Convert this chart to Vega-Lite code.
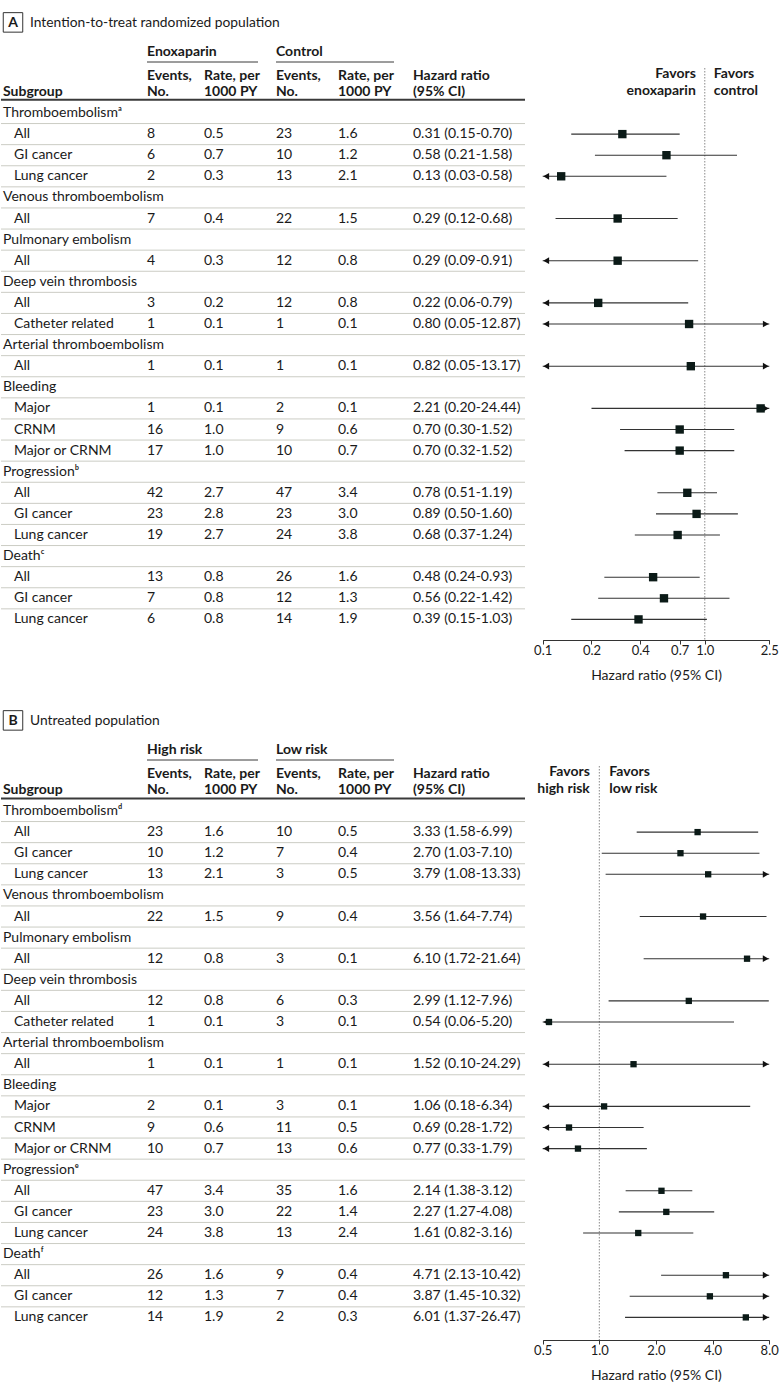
{
  "$schema": "https://vega.github.io/schema/vega-lite/v6.json",
  "padding": 0,
  "background": "white",
  "spacing": 58,
  "bounds": "flush",
  "config": {
    "view": {"stroke": null},
    "font": "Lato",
    "text": {"font": "Lato", "fontSize": 14, "color": "#1a1a1a", "align": "left", "baseline": "middle"},
    "point": {"opacity": 1},
    "axis": {"grid": false, "domainColor": "#333333", "tickColor": "#333333", "tickSize": 4, "labelFont": "Lato", "labelFontSize": 13, "labelColor": "#1a1a1a", "labelPadding": 0.5, "labelOverlap": false, "labelFlush": false, "titleFont": "Lato", "titleFontSize": 14, "titleFontWeight": "normal", "titleColor": "#1a1a1a", "titlePadding": 10.5}
  },
  "datasets": {
    "A": [
      {"id": "03", "label": "Thromboembolismᵃ", "level": "cat"},
      {"id": "04", "label": "All", "level": "sub", "ev1": 8, "rate1": 0.5, "ev2": 23, "rate2": 1.6, "hr": "0.31 (0.15-0.70)", "est": 0.31, "lo": 0.15, "hi": 0.70},
      {"id": "05", "label": "GI cancer", "level": "sub", "ev1": 6, "rate1": 0.7, "ev2": 10, "rate2": 1.2, "hr": "0.58 (0.21-1.58)", "est": 0.58, "lo": 0.21, "hi": 1.58},
      {"id": "06", "label": "Lung cancer", "level": "sub", "ev1": 2, "rate1": 0.3, "ev2": 13, "rate2": 2.1, "hr": "0.13 (0.03-0.58)", "est": 0.13, "lo": 0.03, "hi": 0.58},
      {"id": "07", "label": "Venous thromboembolism", "level": "cat"},
      {"id": "08", "label": "All", "level": "sub", "ev1": 7, "rate1": 0.4, "ev2": 22, "rate2": 1.5, "hr": "0.29 (0.12-0.68)", "est": 0.29, "lo": 0.12, "hi": 0.68},
      {"id": "09", "label": "Pulmonary embolism", "level": "cat"},
      {"id": "10", "label": "All", "level": "sub", "ev1": 4, "rate1": 0.3, "ev2": 12, "rate2": 0.8, "hr": "0.29 (0.09-0.91)", "est": 0.29, "lo": 0.09, "hi": 0.91},
      {"id": "11", "label": "Deep vein thrombosis", "level": "cat"},
      {"id": "12", "label": "All", "level": "sub", "ev1": 3, "rate1": 0.2, "ev2": 12, "rate2": 0.8, "hr": "0.22 (0.06-0.79)", "est": 0.22, "lo": 0.06, "hi": 0.79},
      {"id": "13", "label": "Catheter related", "level": "sub", "ev1": 1, "rate1": 0.1, "ev2": 1, "rate2": 0.1, "hr": "0.80 (0.05-12.87)", "est": 0.80, "lo": 0.05, "hi": 12.87},
      {"id": "14", "label": "Arterial thromboembolism", "level": "cat"},
      {"id": "15", "label": "All", "level": "sub", "ev1": 1, "rate1": 0.1, "ev2": 1, "rate2": 0.1, "hr": "0.82 (0.05-13.17)", "est": 0.82, "lo": 0.05, "hi": 13.17},
      {"id": "16", "label": "Bleeding", "level": "cat"},
      {"id": "17", "label": "Major", "level": "sub", "ev1": 1, "rate1": 0.1, "ev2": 2, "rate2": 0.1, "hr": "2.21 (0.20-24.44)", "est": 2.21, "lo": 0.20, "hi": 24.44},
      {"id": "18", "label": "CRNM", "level": "sub", "ev1": 16, "rate1": 1.0, "ev2": 9, "rate2": 0.6, "hr": "0.70 (0.30-1.52)", "est": 0.70, "lo": 0.30, "hi": 1.52},
      {"id": "19", "label": "Major or CRNM", "level": "sub", "ev1": 17, "rate1": 1.0, "ev2": 10, "rate2": 0.7, "hr": "0.70 (0.32-1.52)", "est": 0.70, "lo": 0.32, "hi": 1.52},
      {"id": "20", "label": "Progressionᵇ", "level": "cat"},
      {"id": "21", "label": "All", "level": "sub", "ev1": 42, "rate1": 2.7, "ev2": 47, "rate2": 3.4, "hr": "0.78 (0.51-1.19)", "est": 0.78, "lo": 0.51, "hi": 1.19},
      {"id": "22", "label": "GI cancer", "level": "sub", "ev1": 23, "rate1": 2.8, "ev2": 23, "rate2": 3.0, "hr": "0.89 (0.50-1.60)", "est": 0.89, "lo": 0.50, "hi": 1.60},
      {"id": "23", "label": "Lung cancer", "level": "sub", "ev1": 19, "rate1": 2.7, "ev2": 24, "rate2": 3.8, "hr": "0.68 (0.37-1.24)", "est": 0.68, "lo": 0.37, "hi": 1.24},
      {"id": "24", "label": "Deathᶜ", "level": "cat"},
      {"id": "25", "label": "All", "level": "sub", "ev1": 13, "rate1": 0.8, "ev2": 26, "rate2": 1.6, "hr": "0.48 (0.24-0.93)", "est": 0.48, "lo": 0.24, "hi": 0.93},
      {"id": "26", "label": "GI cancer", "level": "sub", "ev1": 7, "rate1": 0.8, "ev2": 12, "rate2": 1.3, "hr": "0.56 (0.22-1.42)", "est": 0.56, "lo": 0.22, "hi": 1.42},
      {"id": "27", "label": "Lung cancer", "level": "sub", "ev1": 6, "rate1": 0.8, "ev2": 14, "rate2": 1.9, "hr": "0.39 (0.15-1.03)", "est": 0.39, "lo": 0.15, "hi": 1.03}
    ],
    "B": [
      {"id": "03", "label": "Thromboembolismᵈ", "level": "cat"},
      {"id": "04", "label": "All", "level": "sub", "ev1": 23, "rate1": 1.6, "ev2": 10, "rate2": 0.5, "hr": "3.33 (1.58-6.99)", "est": 3.33, "lo": 1.58, "hi": 6.99},
      {"id": "05", "label": "GI cancer", "level": "sub", "ev1": 10, "rate1": 1.2, "ev2": 7, "rate2": 0.4, "hr": "2.70 (1.03-7.10)", "est": 2.70, "lo": 1.03, "hi": 7.10},
      {"id": "06", "label": "Lung cancer", "level": "sub", "ev1": 13, "rate1": 2.1, "ev2": 3, "rate2": 0.5, "hr": "3.79 (1.08-13.33)", "est": 3.79, "lo": 1.08, "hi": 13.33},
      {"id": "07", "label": "Venous thromboembolism", "level": "cat"},
      {"id": "08", "label": "All", "level": "sub", "ev1": 22, "rate1": 1.5, "ev2": 9, "rate2": 0.4, "hr": "3.56 (1.64-7.74)", "est": 3.56, "lo": 1.64, "hi": 7.74},
      {"id": "09", "label": "Pulmonary embolism", "level": "cat"},
      {"id": "10", "label": "All", "level": "sub", "ev1": 12, "rate1": 0.8, "ev2": 3, "rate2": 0.1, "hr": "6.10 (1.72-21.64)", "est": 6.10, "lo": 1.72, "hi": 21.64},
      {"id": "11", "label": "Deep vein thrombosis", "level": "cat"},
      {"id": "12", "label": "All", "level": "sub", "ev1": 12, "rate1": 0.8, "ev2": 6, "rate2": 0.3, "hr": "2.99 (1.12-7.96)", "est": 2.99, "lo": 1.12, "hi": 7.96},
      {"id": "13", "label": "Catheter related", "level": "sub", "ev1": 1, "rate1": 0.1, "ev2": 3, "rate2": 0.1, "hr": "0.54 (0.06-5.20)", "est": 0.54, "lo": 0.06, "hi": 5.20},
      {"id": "14", "label": "Arterial thromboembolism", "level": "cat"},
      {"id": "15", "label": "All", "level": "sub", "ev1": 1, "rate1": 0.1, "ev2": 1, "rate2": 0.1, "hr": "1.52 (0.10-24.29)", "est": 1.52, "lo": 0.10, "hi": 24.29},
      {"id": "16", "label": "Bleeding", "level": "cat"},
      {"id": "17", "label": "Major", "level": "sub", "ev1": 2, "rate1": 0.1, "ev2": 3, "rate2": 0.1, "hr": "1.06 (0.18-6.34)", "est": 1.06, "lo": 0.18, "hi": 6.34},
      {"id": "18", "label": "CRNM", "level": "sub", "ev1": 9, "rate1": 0.6, "ev2": 11, "rate2": 0.5, "hr": "0.69 (0.28-1.72)", "est": 0.69, "lo": 0.28, "hi": 1.72},
      {"id": "19", "label": "Major or CRNM", "level": "sub", "ev1": 10, "rate1": 0.7, "ev2": 13, "rate2": 0.6, "hr": "0.77 (0.33-1.79)", "est": 0.77, "lo": 0.33, "hi": 1.79},
      {"id": "20", "label": "Progressionᵉ", "level": "cat"},
      {"id": "21", "label": "All", "level": "sub", "ev1": 47, "rate1": 3.4, "ev2": 35, "rate2": 1.6, "hr": "2.14 (1.38-3.12)", "est": 2.14, "lo": 1.38, "hi": 3.12},
      {"id": "22", "label": "GI cancer", "level": "sub", "ev1": 23, "rate1": 3.0, "ev2": 22, "rate2": 1.4, "hr": "2.27 (1.27-4.08)", "est": 2.27, "lo": 1.27, "hi": 4.08},
      {"id": "23", "label": "Lung cancer", "level": "sub", "ev1": 24, "rate1": 3.8, "ev2": 13, "rate2": 2.4, "hr": "1.61 (0.82-3.16)", "est": 1.61, "lo": 0.82, "hi": 3.16},
      {"id": "24", "label": "Deathᶠ", "level": "cat"},
      {"id": "25", "label": "All", "level": "sub", "ev1": 26, "rate1": 1.6, "ev2": 9, "rate2": 0.4, "hr": "4.71 (2.13-10.42)", "est": 4.71, "lo": 2.13, "hi": 10.42},
      {"id": "26", "label": "GI cancer", "level": "sub", "ev1": 12, "rate1": 1.3, "ev2": 7, "rate2": 0.4, "hr": "3.87 (1.45-10.32)", "est": 3.87, "lo": 1.45, "hi": 10.32},
      {"id": "27", "label": "Lung cancer", "level": "sub", "ev1": 14, "rate1": 1.9, "ev2": 2, "rate2": 0.3, "hr": "6.01 (1.37-26.47)", "est": 6.01, "lo": 1.37, "hi": 26.47}
    ]
  },
  "vconcat": [
    {
      "width": 780, "height": 640,
      "data": {"name": "A"},
      "resolve": {"scale": {"x": "independent"}},
      "layer": [
        {
          "layer": [
            {
              "transform": [{"filter": "datum.id != '03'"}],
              "mark": {"type": "rule", "color": "#cbccc4", "strokeWidth": 1, "yOffset": -10.55, "xOffset": 1},
              "encoding": {
                "x": {"datum": "label", "type": "nominal", "axis": null, "scale": {"type": "point", "domain": ["label", "ev1", "rate1", "ev2", "rate2", "hr", "end"], "range": [0, 525], "padding": 0}},
                "x2": {"datum": "end"},
                "y": {"field": "id", "type": "ordinal", "axis": null, "scale": {"type": "point", "domain": ["00","01","02","03","04","05","06","07","08","09","10","11","12","13","14","15","16","17","18","19","20","21","22","23","24","25","26","27"], "range": [49.7, 619.4], "padding": 0}}
              }
            },
            {
              "data": {"values": [{}]},
              "mark": {"type": "rule", "color": "#3a3a3a", "strokeWidth": 2, "yOffset": 7.8, "xOffset": 1},
              "encoding": {"x": {"datum": "label", "type": "nominal", "axis": null}, "x2": {"datum": "end"}, "y": {"datum": "02", "type": "ordinal", "axis": null}}
            },
            {
              "data": {"values": [{}]},
              "mark": {"type": "rule", "color": "#3a3a3a", "strokeWidth": 1, "yOffset": 12.3, "xOffset": 59.5, "x2Offset": -4.5},
              "encoding": {"x": {"datum": "ev1", "type": "nominal", "axis": null}, "x2": {"datum": "ev2"}, "y": {"datum": "00", "type": "ordinal", "axis": null}}
            },
            {
              "data": {"values": [{}]},
              "mark": {"type": "rule", "color": "#3a3a3a", "strokeWidth": 1, "yOffset": 12.3, "xOffset": 13.5, "x2Offset": -43.5},
              "encoding": {"x": {"datum": "ev2", "type": "nominal", "axis": null}, "x2": {"datum": "hr"}, "y": {"datum": "00", "type": "ordinal", "axis": null}}
            },
            {
              "data": {"values": [{}]},
              "mark": {"type": "text", "text": "Enoxaparin", "fontWeight": "bold", "dx": 59.5, "dy": 2},
              "encoding": {"x": {"datum": "ev1", "type": "nominal", "axis": null}, "y": {"datum": "00", "type": "ordinal", "axis": null}}
            },
            {
              "data": {"values": [{}]},
              "mark": {"type": "text", "text": "Control", "fontWeight": "bold", "dx": 13.5, "dy": 2},
              "encoding": {"x": {"datum": "ev2", "type": "nominal", "axis": null}, "y": {"datum": "00", "type": "ordinal", "axis": null}}
            },
            {
              "data": {"values": [{}]},
              "mark": {"type": "text", "text": "Subgroup", "fontWeight": "bold", "dx": 3},
              "encoding": {"x": {"datum": "label", "type": "nominal", "axis": null}, "y": {"datum": "02", "type": "ordinal", "axis": null}}
            },
            {
              "data": {"values": [{}]},
              "mark": {"type": "text", "text": ["Events,", "No."], "fontWeight": "bold", "lineHeight": 16.2, "dx": 59.5, "dy": -16.3},
              "encoding": {"x": {"datum": "ev1", "type": "nominal", "axis": null}, "y": {"datum": "02", "type": "ordinal", "axis": null}}
            },
            {
              "data": {"values": [{}]},
              "mark": {"type": "text", "text": ["Rate, per", "1000 PY"], "fontWeight": "bold", "lineHeight": 16.2, "dx": 29, "dy": -16.3},
              "encoding": {"x": {"datum": "rate1", "type": "nominal", "axis": null}, "y": {"datum": "02", "type": "ordinal", "axis": null}}
            },
            {
              "data": {"values": [{}]},
              "mark": {"type": "text", "text": ["Events,", "No."], "fontWeight": "bold", "lineHeight": 16.2, "dx": 13.5, "dy": -16.3},
              "encoding": {"x": {"datum": "ev2", "type": "nominal", "axis": null}, "y": {"datum": "02", "type": "ordinal", "axis": null}}
            },
            {
              "data": {"values": [{}]},
              "mark": {"type": "text", "text": ["Rate, per", "1000 PY"], "fontWeight": "bold", "lineHeight": 16.2, "dx": -12, "dy": -16.3},
              "encoding": {"x": {"datum": "rate2", "type": "nominal", "axis": null}, "y": {"datum": "02", "type": "ordinal", "axis": null}}
            },
            {
              "data": {"values": [{}]},
              "mark": {"type": "text", "text": ["Hazard ratio", "(95% CI)"], "fontWeight": "bold", "lineHeight": 16.2, "dx": -24.5, "dy": -16.3},
              "encoding": {"x": {"datum": "hr", "type": "nominal", "axis": null}, "y": {"datum": "02", "type": "ordinal", "axis": null}}
            },
            {
              "data": {"values": [{}]},
              "mark": {"type": "point", "shape": "square", "filled": false, "stroke": "#333333", "strokeWidth": 1, "size": 380, "xOffset": 13, "yOffset": -27.3},
              "encoding": {"x": {"datum": "label", "type": "nominal", "axis": null}, "y": {"datum": "00", "type": "ordinal", "axis": null}}
            },
            {
              "data": {"values": [{}]},
              "mark": {"type": "text", "text": "A", "fontWeight": "bold", "align": "center", "dx": 13, "dy": -27},
              "encoding": {"x": {"datum": "label", "type": "nominal", "axis": null}, "y": {"datum": "00", "type": "ordinal", "axis": null}}
            },
            {
              "data": {"values": [{}]},
              "mark": {"type": "text", "text": "Intention-to-treat randomized population", "fontSize": 13.8, "dx": 30, "dy": -27},
              "encoding": {"x": {"datum": "label", "type": "nominal", "axis": null}, "y": {"datum": "00", "type": "ordinal", "axis": null}}
            },
            {
              "transform": [{"filter": "datum.level == 'cat'"}],
              "mark": {"type": "text", "dx": 3},
              "encoding": {"x": {"datum": "label", "type": "nominal", "axis": null}, "y": {"field": "id", "type": "ordinal", "axis": null}, "text": {"field": "label"}}
            },
            {
              "transform": [{"filter": "datum.level == 'sub'"}],
              "mark": {"type": "text", "dx": 14},
              "encoding": {"x": {"datum": "label", "type": "nominal", "axis": null}, "y": {"field": "id", "type": "ordinal", "axis": null}, "text": {"field": "label"}}
            },
            {
              "transform": [{"filter": "datum.level == 'sub'"}],
              "mark": {"type": "text", "dx": 59.5},
              "encoding": {"x": {"datum": "ev1", "type": "nominal", "axis": null}, "y": {"field": "id", "type": "ordinal", "axis": null}, "text": {"field": "ev1", "type": "quantitative", "format": "d"}}
            },
            {
              "transform": [{"filter": "datum.level == 'sub'"}],
              "mark": {"type": "text", "dx": 29},
              "encoding": {"x": {"datum": "rate1", "type": "nominal", "axis": null}, "y": {"field": "id", "type": "ordinal", "axis": null}, "text": {"field": "rate1", "type": "quantitative", "format": ".1f"}}
            },
            {
              "transform": [{"filter": "datum.level == 'sub'"}],
              "mark": {"type": "text", "dx": 13.5},
              "encoding": {"x": {"datum": "ev2", "type": "nominal", "axis": null}, "y": {"field": "id", "type": "ordinal", "axis": null}, "text": {"field": "ev2", "type": "quantitative", "format": "d"}}
            },
            {
              "transform": [{"filter": "datum.level == 'sub'"}],
              "mark": {"type": "text", "dx": -12},
              "encoding": {"x": {"datum": "rate2", "type": "nominal", "axis": null}, "y": {"field": "id", "type": "ordinal", "axis": null}, "text": {"field": "rate2", "type": "quantitative", "format": ".1f"}}
            },
            {
              "transform": [{"filter": "datum.level == 'sub'"}],
              "mark": {"type": "text", "dx": -24.5},
              "encoding": {"x": {"datum": "hr", "type": "nominal", "axis": null}, "y": {"field": "id", "type": "ordinal", "axis": null}, "text": {"field": "hr"}}
            }
          ]
        },
        {
          "layer": [
            {
              "data": {"values": [{}]},
              "mark": {"type": "rule", "color": "#8a8a8a", "strokeWidth": 1, "strokeDash": [1.5, 1.5], "yOffset": -2.8, "y2Offset": 20.6},
              "encoding": {
                "x": {"datum": 1, "type": "quantitative", "title": "Hazard ratio (95% CI)", "scale": {"type": "log", "domain": [0.1, 2.5], "range": [542.7, 769.3], "clamp": true, "nice": false, "zero": false}, "axis": {"values": [0.1, 0.2, 0.4, 0.7, 1, 2.5], "format": ".1f", "title": "Hazard ratio (95% CI)"}},
                "y": {"datum": "01", "type": "ordinal", "axis": null},
                "y2": {"datum": "27"}
              }
            },
            {
              "data": {"values": [{}]},
              "mark": {"type": "text", "text": ["Favors", "enoxaparin"], "fontWeight": "bold", "align": "right", "lineHeight": 16.7, "dx": -9, "dy": -17.8},
              "encoding": {"x": {"datum": 1, "type": "quantitative", "title": "Hazard ratio (95% CI)"}, "y": {"datum": "02", "type": "ordinal", "axis": null}}
            },
            {
              "data": {"values": [{}]},
              "mark": {"type": "text", "text": ["Favors", "control"], "fontWeight": "bold", "align": "left", "lineHeight": 16.7, "dx": 9, "dy": -17.8},
              "encoding": {"x": {"datum": 1, "type": "quantitative", "title": "Hazard ratio (95% CI)"}, "y": {"datum": "02", "type": "ordinal", "axis": null}}
            },
            {
              "transform": [{"filter": "datum.level == 'sub'"}],
              "mark": {"type": "rule", "color": "#333333", "strokeWidth": 1.1},
              "encoding": {"x": {"field": "lo", "type": "quantitative", "title": "Hazard ratio (95% CI)"}, "x2": {"field": "hi"}, "y": {"field": "id", "type": "ordinal", "axis": null}}
            },
            {
              "transform": [{"filter": "datum.level == 'sub' && datum.lo < 0.1"}],
              "mark": {"type": "point", "shape": "triangle-left", "filled": true, "color": "#111111", "size": 45, "xOffset": 3.5},
              "encoding": {"x": {"field": "lo", "type": "quantitative", "title": "Hazard ratio (95% CI)"}, "y": {"field": "id", "type": "ordinal", "axis": null}}
            },
            {
              "transform": [{"filter": "datum.level == 'sub' && datum.hi > 2.5"}],
              "mark": {"type": "point", "shape": "triangle-right", "filled": true, "color": "#111111", "size": 45, "xOffset": -3.5},
              "encoding": {"x": {"field": "hi", "type": "quantitative", "title": "Hazard ratio (95% CI)"}, "y": {"field": "id", "type": "ordinal", "axis": null}}
            },
            {
              "transform": [{"filter": "datum.level == 'sub'"}],
              "mark": {"type": "point", "shape": "square", "filled": true, "color": "#0b1a17", "size": 70},
              "encoding": {"x": {"field": "est", "type": "quantitative", "title": "Hazard ratio (95% CI)"}, "y": {"field": "id", "type": "ordinal", "axis": null}}
            }
          ]
        }
      ]
    },
    {
      "width": 780, "height": 642,
      "data": {"name": "B"},
      "resolve": {"scale": {"x": "independent"}},
      "layer": [
        {
          "layer": [
            {
              "transform": [{"filter": "datum.id != '03'"}],
              "mark": {"type": "rule", "color": "#cbccc4", "strokeWidth": 1, "yOffset": -10.55, "xOffset": 1},
              "encoding": {
                "x": {"datum": "label", "type": "nominal", "axis": null, "scale": {"type": "point", "domain": ["label", "ev1", "rate1", "ev2", "rate2", "hr", "end"], "range": [0, 525], "padding": 0}},
                "x2": {"datum": "end"},
                "y": {"field": "id", "type": "ordinal", "axis": null, "scale": {"type": "point", "domain": ["00","01","02","03","04","05","06","07","08","09","10","11","12","13","14","15","16","17","18","19","20","21","22","23","24","25","26","27"], "range": [49.7, 619.4], "padding": 0}}
              }
            },
            {
              "data": {"values": [{}]},
              "mark": {"type": "rule", "color": "#3a3a3a", "strokeWidth": 2, "yOffset": 8.5, "xOffset": 1},
              "encoding": {"x": {"datum": "label", "type": "nominal", "axis": null}, "x2": {"datum": "end"}, "y": {"datum": "02", "type": "ordinal", "axis": null}}
            },
            {
              "data": {"values": [{}]},
              "mark": {"type": "rule", "color": "#3a3a3a", "strokeWidth": 1, "yOffset": 12.3, "xOffset": 59.5, "x2Offset": -4.5},
              "encoding": {"x": {"datum": "ev1", "type": "nominal", "axis": null}, "x2": {"datum": "ev2"}, "y": {"datum": "00", "type": "ordinal", "axis": null}}
            },
            {
              "data": {"values": [{}]},
              "mark": {"type": "rule", "color": "#3a3a3a", "strokeWidth": 1, "yOffset": 12.3, "xOffset": 13.5, "x2Offset": -43.5},
              "encoding": {"x": {"datum": "ev2", "type": "nominal", "axis": null}, "x2": {"datum": "hr"}, "y": {"datum": "00", "type": "ordinal", "axis": null}}
            },
            {
              "data": {"values": [{}]},
              "mark": {"type": "text", "text": "High risk", "fontWeight": "bold", "dx": 59.5, "dy": 2},
              "encoding": {"x": {"datum": "ev1", "type": "nominal", "axis": null}, "y": {"datum": "00", "type": "ordinal", "axis": null}}
            },
            {
              "data": {"values": [{}]},
              "mark": {"type": "text", "text": "Low risk", "fontWeight": "bold", "dx": 13.5, "dy": 2},
              "encoding": {"x": {"datum": "ev2", "type": "nominal", "axis": null}, "y": {"datum": "00", "type": "ordinal", "axis": null}}
            },
            {
              "data": {"values": [{}]},
              "mark": {"type": "text", "text": "Subgroup", "fontWeight": "bold", "dx": 3},
              "encoding": {"x": {"datum": "label", "type": "nominal", "axis": null}, "y": {"datum": "02", "type": "ordinal", "axis": null}}
            },
            {
              "data": {"values": [{}]},
              "mark": {"type": "text", "text": ["Events,", "No."], "fontWeight": "bold", "lineHeight": 16.2, "dx": 59.5, "dy": -16.3},
              "encoding": {"x": {"datum": "ev1", "type": "nominal", "axis": null}, "y": {"datum": "02", "type": "ordinal", "axis": null}}
            },
            {
              "data": {"values": [{}]},
              "mark": {"type": "text", "text": ["Rate, per", "1000 PY"], "fontWeight": "bold", "lineHeight": 16.2, "dx": 29, "dy": -16.3},
              "encoding": {"x": {"datum": "rate1", "type": "nominal", "axis": null}, "y": {"datum": "02", "type": "ordinal", "axis": null}}
            },
            {
              "data": {"values": [{}]},
              "mark": {"type": "text", "text": ["Events,", "No."], "fontWeight": "bold", "lineHeight": 16.2, "dx": 13.5, "dy": -16.3},
              "encoding": {"x": {"datum": "ev2", "type": "nominal", "axis": null}, "y": {"datum": "02", "type": "ordinal", "axis": null}}
            },
            {
              "data": {"values": [{}]},
              "mark": {"type": "text", "text": ["Rate, per", "1000 PY"], "fontWeight": "bold", "lineHeight": 16.2, "dx": -12, "dy": -16.3},
              "encoding": {"x": {"datum": "rate2", "type": "nominal", "axis": null}, "y": {"datum": "02", "type": "ordinal", "axis": null}}
            },
            {
              "data": {"values": [{}]},
              "mark": {"type": "text", "text": ["Hazard ratio", "(95% CI)"], "fontWeight": "bold", "lineHeight": 16.2, "dx": -24.5, "dy": -16.3},
              "encoding": {"x": {"datum": "hr", "type": "nominal", "axis": null}, "y": {"datum": "02", "type": "ordinal", "axis": null}}
            },
            {
              "data": {"values": [{}]},
              "mark": {"type": "point", "shape": "square", "filled": false, "stroke": "#333333", "strokeWidth": 1, "size": 380, "xOffset": 13, "yOffset": -27.3},
              "encoding": {"x": {"datum": "label", "type": "nominal", "axis": null}, "y": {"datum": "00", "type": "ordinal", "axis": null}}
            },
            {
              "data": {"values": [{}]},
              "mark": {"type": "text", "text": "B", "fontWeight": "bold", "align": "center", "dx": 13, "dy": -27},
              "encoding": {"x": {"datum": "label", "type": "nominal", "axis": null}, "y": {"datum": "00", "type": "ordinal", "axis": null}}
            },
            {
              "data": {"values": [{}]},
              "mark": {"type": "text", "text": "Untreated population", "fontSize": 13.8, "dx": 30, "dy": -27},
              "encoding": {"x": {"datum": "label", "type": "nominal", "axis": null}, "y": {"datum": "00", "type": "ordinal", "axis": null}}
            },
            {
              "transform": [{"filter": "datum.level == 'cat'"}],
              "mark": {"type": "text", "dx": 3},
              "encoding": {"x": {"datum": "label", "type": "nominal", "axis": null}, "y": {"field": "id", "type": "ordinal", "axis": null}, "text": {"field": "label"}}
            },
            {
              "transform": [{"filter": "datum.level == 'sub'"}],
              "mark": {"type": "text", "dx": 14},
              "encoding": {"x": {"datum": "label", "type": "nominal", "axis": null}, "y": {"field": "id", "type": "ordinal", "axis": null}, "text": {"field": "label"}}
            },
            {
              "transform": [{"filter": "datum.level == 'sub'"}],
              "mark": {"type": "text", "dx": 59.5},
              "encoding": {"x": {"datum": "ev1", "type": "nominal", "axis": null}, "y": {"field": "id", "type": "ordinal", "axis": null}, "text": {"field": "ev1", "type": "quantitative", "format": "d"}}
            },
            {
              "transform": [{"filter": "datum.level == 'sub'"}],
              "mark": {"type": "text", "dx": 29},
              "encoding": {"x": {"datum": "rate1", "type": "nominal", "axis": null}, "y": {"field": "id", "type": "ordinal", "axis": null}, "text": {"field": "rate1", "type": "quantitative", "format": ".1f"}}
            },
            {
              "transform": [{"filter": "datum.level == 'sub'"}],
              "mark": {"type": "text", "dx": 13.5},
              "encoding": {"x": {"datum": "ev2", "type": "nominal", "axis": null}, "y": {"field": "id", "type": "ordinal", "axis": null}, "text": {"field": "ev2", "type": "quantitative", "format": "d"}}
            },
            {
              "transform": [{"filter": "datum.level == 'sub'"}],
              "mark": {"type": "text", "dx": -12},
              "encoding": {"x": {"datum": "rate2", "type": "nominal", "axis": null}, "y": {"field": "id", "type": "ordinal", "axis": null}, "text": {"field": "rate2", "type": "quantitative", "format": ".1f"}}
            },
            {
              "transform": [{"filter": "datum.level == 'sub'"}],
              "mark": {"type": "text", "dx": -24.5},
              "encoding": {"x": {"datum": "hr", "type": "nominal", "axis": null}, "y": {"field": "id", "type": "ordinal", "axis": null}, "text": {"field": "hr"}}
            }
          ]
        },
        {
          "layer": [
            {
              "data": {"values": [{}]},
              "mark": {"type": "rule", "color": "#8a8a8a", "strokeWidth": 1, "strokeDash": [1.5, 1.5], "yOffset": -2.8, "y2Offset": 22.6},
              "encoding": {
                "x": {"datum": 1, "type": "quantitative", "title": "Hazard ratio (95% CI)", "scale": {"type": "log", "domain": [0.5, 8], "range": [542.7, 769.2], "clamp": true, "nice": false, "zero": false}, "axis": {"values": [0.5, 1, 2, 4, 8], "format": ".1f", "title": "Hazard ratio (95% CI)"}},
                "y": {"datum": "01", "type": "ordinal", "axis": null},
                "y2": {"datum": "27"}
              }
            },
            {
              "data": {"values": [{}]},
              "mark": {"type": "text", "text": ["Favors", "high risk"], "fontWeight": "bold", "align": "right", "lineHeight": 16.7, "dx": -9.5, "dy": -17.8},
              "encoding": {"x": {"datum": 1, "type": "quantitative", "title": "Hazard ratio (95% CI)"}, "y": {"datum": "02", "type": "ordinal", "axis": null}}
            },
            {
              "data": {"values": [{}]},
              "mark": {"type": "text", "text": ["Favors", "low risk"], "fontWeight": "bold", "align": "left", "lineHeight": 16.7, "dx": 10, "dy": -17.8},
              "encoding": {"x": {"datum": 1, "type": "quantitative", "title": "Hazard ratio (95% CI)"}, "y": {"datum": "02", "type": "ordinal", "axis": null}}
            },
            {
              "transform": [{"filter": "datum.level == 'sub'"}],
              "mark": {"type": "rule", "color": "#333333", "strokeWidth": 1.1},
              "encoding": {"x": {"field": "lo", "type": "quantitative", "title": "Hazard ratio (95% CI)"}, "x2": {"field": "hi"}, "y": {"field": "id", "type": "ordinal", "axis": null}}
            },
            {
              "transform": [{"filter": "datum.level == 'sub' && datum.lo < 0.5"}],
              "mark": {"type": "point", "shape": "triangle-left", "filled": true, "color": "#111111", "size": 45, "xOffset": 3.5},
              "encoding": {"x": {"field": "lo", "type": "quantitative", "title": "Hazard ratio (95% CI)"}, "y": {"field": "id", "type": "ordinal", "axis": null}}
            },
            {
              "transform": [{"filter": "datum.level == 'sub' && datum.hi > 8"}],
              "mark": {"type": "point", "shape": "triangle-right", "filled": true, "color": "#111111", "size": 45, "xOffset": -3.5},
              "encoding": {"x": {"field": "hi", "type": "quantitative", "title": "Hazard ratio (95% CI)"}, "y": {"field": "id", "type": "ordinal", "axis": null}}
            },
            {
              "transform": [{"filter": "datum.level == 'sub'"}],
              "mark": {"type": "point", "shape": "square", "filled": true, "color": "#0b1a17", "size": 40},
              "encoding": {"x": {"field": "est", "type": "quantitative", "title": "Hazard ratio (95% CI)"}, "y": {"field": "id", "type": "ordinal", "axis": null}}
            }
          ]
        }
      ]
    }
  ]
}
